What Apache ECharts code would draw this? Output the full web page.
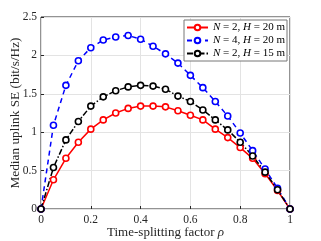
<!DOCTYPE html>
<html><head><meta charset="utf-8">
<script src="https://cdn.jsdelivr.net/npm/echarts@6/dist/echarts.min.js"></script>
<style>html,body{margin:0;padding:0;background:#fff}#c{width:321px;height:241px}</style>
</head><body><div id="c"></div>
<script>
var rho = [0,0.05,0.1,0.15,0.2,0.25,0.3,0.35,0.4,0.45,0.5,0.55,0.6,0.65,0.7,0.75,0.8,0.85,0.9,0.95,1];
var seN2H20 = [0,0.38,0.66,0.87,1.04,1.16,1.25,1.31,1.34,1.34,1.33,1.28,1.22,1.16,1.04,0.93,0.80,0.66,0.46,0.24,0];
var seN4H20 = [0,1.09,1.61,1.93,2.10,2.20,2.24,2.26,2.21,2.12,2.02,1.90,1.74,1.58,1.40,1.21,0.99,0.76,0.52,0.27,0];
var seN2H15 = [0,0.54,0.90,1.14,1.34,1.46,1.54,1.59,1.61,1.60,1.56,1.47,1.40,1.29,1.16,1.03,0.87,0.69,0.48,0.25,0];
var names = ['N = 2, H = 20 m','N = 4, H = 20 m','N = 2, H = 15 m'];
var xTicks = [0,0.2,0.4,0.6,0.8,1];
var yTicks = [0,0.5,1,1.5,2,2.5];

var F = 'Liberation Serif';
function pairs(ys){return rho.map(function(x,i){return [x,ys[i]];});}
function mk(name, ys, color, dash){
  return {name:name,type:'line',data:pairs(ys),symbol:'circle',symbolSize:6,
    lineStyle:{color:color,width:1.5,type:dash},
    itemStyle:{color:'#fff',borderColor:color,borderWidth:1.6},
    emphasis:{disabled:true},animation:false,z:3};
}
var chart = echarts.init(document.getElementById('c'),null,{renderer:'canvas'});
chart.setOption({
  animation:false,
  grid:{left:41,right:31,top:17,bottom:32,containLabel:false,outerBoundsMode:'none',show:true,borderColor:'#262626',borderWidth:1,backgroundColor:'#fff'},
  legend:{orient:'vertical',right:34,top:20,itemWidth:21,itemHeight:7,itemGap:2,
    padding:[2,2,2,2],backgroundColor:'#fff',borderColor:'#777',borderWidth:1,
    data:names,
    formatter:function(n){return n.replace(/N/,'{i|N}').replace(/H/,'{i|H}');},
    textStyle:{fontFamily:F,fontSize:11,color:'#000',rich:{i:{fontFamily:F,fontStyle:'italic',fontSize:11,color:'#000'}}}},
  xAxis:{type:'value',min:0,max:1,interval:0.2,
    name:'Time-splitting factor {i|ρ}',nameLocation:'middle',nameGap:17,nameMoveOverlap:false,
    nameTextStyle:{fontFamily:F,fontSize:13,color:'#262626',rich:{i:{fontFamily:F,fontStyle:'italic',fontSize:13,color:'#262626'}}},
    axisLine:{show:false},
    axisTick:{inside:true,length:3,lineStyle:{color:'#262626'}},
    axisLabel:{fontFamily:F,fontSize:11.5,color:'#262626',margin:5,
      formatter:function(v){return xTicks.indexOf(+v.toFixed(2))>=0?String(+v.toFixed(2)):'';}},
    splitLine:{show:true,lineStyle:{color:'#e3e3e3',width:1}}},
  yAxis:{type:'value',min:0,max:2.5,interval:0.5,
    name:'Median uplink SE (bit/s/Hz)',nameLocation:'middle',nameGap:19,nameMoveOverlap:false,
    nameTextStyle:{fontFamily:F,fontSize:13.3,color:'#262626'},
    axisLine:{show:false},
    axisTick:{inside:true,length:3,lineStyle:{color:'#262626'}},
    axisLabel:{fontFamily:F,fontSize:11.5,color:'#262626',margin:4,
      formatter:function(v){return String(+v.toFixed(2));}},
    splitLine:{show:true,lineStyle:{color:'#e3e3e3',width:1}}},
  series:[
    mk(names[0],seN2H20,'#ff0000','solid'),
    mk(names[1],seN4H20,'#0000ff',[5,4]),
    mk(names[2],seN2H15,'#000000',[6,2,1.5,2])
  ]
});
</script></body></html>
